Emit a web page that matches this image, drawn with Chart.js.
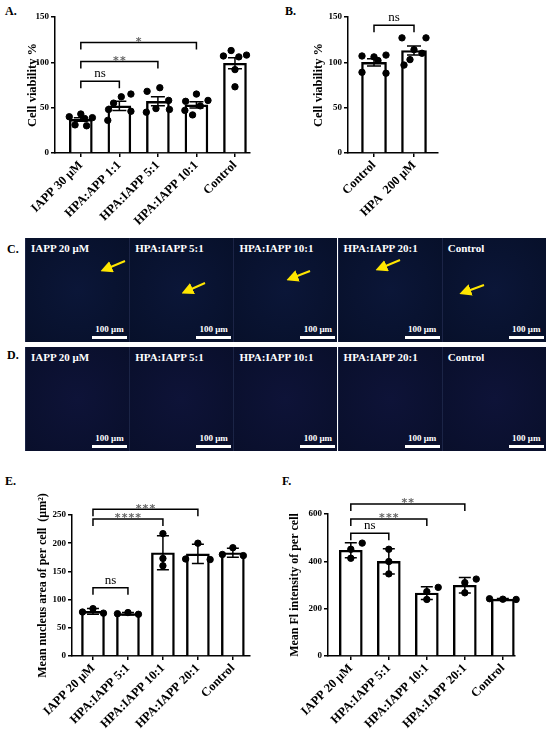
<!DOCTYPE html>
<html lang="en">
<head>
<meta charset="UTF-8">
<title>Cell viability and nucleus imaging</title>
<script src="https://cdn.jsdelivr.net/npm/chart.js"></script>
<style>
  body { margin: 0; background: #fff; width: 550px; height: 731px; position: relative; overflow: hidden;
         font-family: "Liberation Serif", serif; }
  .box { position: absolute; }
  .tag { position: absolute; font: bold 12px "Liberation Serif", serif; color: #000; }
  .pic { position: absolute; width: 104px; height: 104px; background: #08112c; overflow: hidden;
         border-left: 1px solid #1b2446; box-sizing: border-box; }
  .pic .name { position: absolute; left: 5px; top: 4px; color: #fff; font: bold 11px "Liberation Serif", serif; white-space: nowrap; }
  .pic .bar { position: absolute; right: 2px; bottom: 3px; width: 35px; height: 3px; background: #fff; }
  .pic .um { position: absolute; right: 2px; bottom: 8px; width: 35px; text-align: center; color: #fff;
             font: bold 9px "Liberation Serif", serif; }
  svg { position: absolute; left: 0; top: 0; }
</style>
</head>
<body>

<div class="tag" style="left:5px;top:4px">A.</div>
<div class="tag" style="left:285px;top:4px">B.</div>
<div class="tag" style="left:7px;top:242px">C.</div>
<div class="tag" style="left:7px;top:348px">D.</div>
<div class="tag" style="left:5px;top:474px">E.</div>
<div class="tag" style="left:282px;top:474px">F.</div>

<canvas id="chartA" class="box" style="left:0;top:0" width="265" height="228"></canvas>
<canvas id="chartB" class="box" style="left:275px;top:0" width="200" height="228"></canvas>
<canvas id="chartE" class="box" style="left:0;top:470px" width="265" height="261"></canvas>
<canvas id="chartF" class="box" style="left:275px;top:470px" width="275" height="261"></canvas>

<div id="rowC"></div>
<div id="rowD"></div>
<svg width="550" height="731" id="arrows"></svg>

<script>
// ---- data ----
const catsA = ['IAPP 30 μM', 'HPA:APP 1:1', 'HPA:IAPP 5:1', 'HPA:IAPP 10:1', 'Control'];
const meanA = [37, 52, 57, 53, 99];
const semA = [2, 5, 5, 3.5, 6];
const dotsA = [
  [43, 40, 39, 38, 31, 30],
  [65, 62, 55, 48, 46, 36],
  [72, 68, 58, 49, 48, 45],
  [65, 58, 57, 52, 47, 42],
  [113, 108, 107, 106, 92, 73]
];
const sigA = [[0, 1, 'ns'], [0, 2, '**'], [0, 3, '*']];

const catsB = ['Control', 'HPA  200 μM'];
const meanB = [100, 113];
const semB = [4, 5];
const dotsB = [
  [108, 107, 106, 102, 89, 88],
  [127, 127, 114, 110, 103, 97]
];
const sigB = [[0, 1, 'ns']];

const catsE = ['IAPP 20 μM', 'HPA:IAPP 5:1', 'HPA:IAPP 10:1', 'HPA:IAPP 20:1', 'Control'];
const meanE = [79, 75, 183, 181, 183];
const sdE = [5, 2, 30, 17, 8];
const dotsE = [
  [84, 78, 76],
  [77, 75, 74],
  [217, 173, 160],
  [200, 172, 171],
  [192, 180, 178]
];
const sigE = [[0, 1, 'ns'], [0, 2, '****'], [0, 3, '***']];

const catsF = ['IAPP 20 μM', 'HPA:IAPP 5:1', 'HPA:IAPP 10:1', 'HPA:IAPP 20:1', 'Control'];
const meanF = [447, 400, 266, 299, 240];
const sdF = [32, 53, 27, 33, 3];
const dotsF = [
  [477, 451, 413],
  [451, 399, 347],
  [290, 272, 239],
  [325, 310, 267],
  [242, 240, 239]
];
const sigF = [[0, 1, 'ns'], [0, 2, '***'], [0, 3, '**']];

const picNames = ['IAPP 20 μM', 'HPA:IAPP 5:1', 'HPA:IAPP 10:1', 'HPA:IAPP 20:1', 'Control'];

// ---- style / placement ----
const jitA = [
  [0, -0.3, 0.3, 0.1, -0.15, 0.15],
  [0.3, 0.05, -0.15, -0.28, 0.3, -0.3],
  [0.05, -0.28, 0.28, -0.05, 0.3, -0.3],
  [0, 0.3, -0.28, 0.1, -0.3, -0.1],
  [-0.1, 0.3, -0.3, 0.1, 0, 0]
];
const jitB = [
  [0.3, -0.3, 0, 0.1, -0.3, 0.3],
  [-0.3, 0.3, 0, 0.2, -0.1, -0.25]
];
const jitE = [[0, -0.3, 0.3], [0, -0.3, 0.3], [0, 0, 0], [0, -0.35, 0.35], [0, -0.3, 0.3]];
const jitF = [[0.3, 0, 0], [0, 0, 0], [0.3, 0, 0], [0.3, 0, 0], [-0.35, 0, 0.35]];

const serif = 'Liberation Serif';

function panel(id, o) {
  const pts = [];
  o.dots.forEach((vals, i) => vals.forEach((v, j) => pts.push({x: i + o.jit[i][j], y: v})));

  const deco = {
    id: 'deco' + id,
    afterDatasetsDraw(chart) {
      const {ctx, scales: {x, y}} = chart;
      ctx.save();
      ctx.strokeStyle = '#000';
      ctx.lineWidth = 1.5;
      // error bars
      o.mean.forEach((m, i) => {
        const px = x.getPixelForValue(i);
        const t = y.getPixelForValue(m + o.err[i]);
        const b = y.getPixelForValue(m - o.err[i]);
        ctx.beginPath();
        ctx.moveTo(px, t); ctx.lineTo(px, b);
        ctx.moveTo(px - o.cap, t); ctx.lineTo(px + o.cap, t);
        ctx.moveTo(px - o.cap, b); ctx.lineTo(px + o.cap, b);
        ctx.stroke();
      });
      // significance brackets
      o.sig.forEach(([a, b, label], k) => {
        const x1 = x.getPixelForValue(a), x2 = x.getPixelForValue(b);
        const py = y.getPixelForValue(o.sigY[k]);
        ctx.beginPath();
        ctx.moveTo(x1, py + 7); ctx.lineTo(x1, py); ctx.lineTo(x2, py); ctx.lineTo(x2, py + 7);
        ctx.stroke();
        ctx.textAlign = 'center';
        ctx.textBaseline = 'bottom';
        if (label === 'ns') {
          ctx.fillStyle = '#000';
          ctx.font = '13px ' + serif;
          ctx.fillText(label, (x1 + x2) / 2, py - 1);
        } else {
          ctx.fillStyle = '#666';
          ctx.font = 'bold 11px "DejaVu Sans"';
          ctx.fillText(label.split('').join('\u200A'), (x1 + x2) / 2, py + 5);
        }
      });
      ctx.restore();
    }
  };

  new Chart(document.getElementById(id), {
    type: 'bar',
    data: {
      datasets: [
        {type: 'scatter', data: pts, pointRadius: 3.2, pointHoverRadius: 3.2, backgroundColor: '#000', borderColor: '#000', clip: false, order: 0},
        {type: 'bar', data: o.mean.map((v, i) => ({x: i, y: v})), backgroundColor: '#fff', borderColor: '#000',
         borderWidth: 2.4, barThickness: o.barW, order: 1}
      ]
    },
    options: {
      responsive: false,
      animation: false,
      layout: {padding: {top: o.padT, right: o.padR, left: 0, bottom: 0}},
      plugins: {legend: {display: false}, tooltip: {enabled: false}},
      scales: {
        x: {
          type: 'linear', min: o.xmin, max: o.xmax, offset: false,
          afterBuildTicks: s => { s.ticks = o.cats.map((c, i) => ({value: i})); },
          afterFit: s => { s.height = o.xH; },
          ticks: {callback: v => o.cats[v], autoSkip: false, minRotation: 45, maxRotation: 45, padding: 1,
                  color: '#000', font: {family: serif, weight: 'bold', size: 12.5}},
          grid: {offset: false, drawOnChartArea: false, drawTicks: true, tickLength: 4, color: '#000', lineWidth: 1.5},
          border: {color: '#000', width: 1.5}
        },
        y: {
          min: 0, max: o.ymax,
          afterFit: s => { s.width = o.yW; },
          ticks: {stepSize: o.step, padding: 2, color: '#000', font: {family: serif, weight: 'bold', size: 9}},
          title: {display: true, text: o.title, color: '#000', padding: {top: o.titlePad, bottom: 0},
                  font: {family: serif, weight: 'bold', size: o.titleSize}},
          grid: {drawOnChartArea: false, drawTicks: true, tickLength: 4, color: '#000', lineWidth: 1.5},
          border: {color: '#000', width: 1.5}
        }
      }
    },
    plugins: [deco]
  });
}

panel('chartA', {cats: catsA, mean: meanA, err: semA, dots: dotsA, jit: jitA, sig: sigA, sigY: [79, 101, 122],
  xmin: -0.67, xmax: 4.39, ymax: 150, step: 50, padT: 17, padR: 15, yW: 55, xH: 75, barW: 23, cap: 7,
  title: 'Cell viability %', titleSize: 12.5, titlePad: 25});
panel('chartB', {cats: catsB, mean: meanB, err: semB, dots: dotsB, jit: jitB, sig: sigB, sigY: [141],
  xmin: -0.65, xmax: 1.6, ymax: 150, step: 50, padT: 17, padR: 37, yW: 73, xH: 75, barW: 25, cap: 7,
  title: 'Cell viability %', titleSize: 12.5, titlePad: 36});
panel('chartE', {cats: catsE, mean: meanE, err: sdE, dots: dotsE, jit: jitE, sig: sigE, sigY: [121, 243, 260],
  xmin: -0.6, xmax: 4.49, ymax: 250, step: 50, padT: 45, padR: 15, yW: 72, xH: 75, barW: 23, cap: 6,
  title: 'Mean nucleus area of per cell  (μm²)', titleSize: 12, titlePad: 36});
panel('chartF', {cats: catsF, mean: meanF, err: sdF, dots: dotsF, jit: jitF, sig: sigF, sigY: [519, 579, 642],
  xmin: -0.6, xmax: 4.32, ymax: 600, step: 200, padT: 44, padR: 35, yW: 53, xH: 75, barW: 23, cap: 6,
  title: 'Mean Fl intensity of per cell', titleSize: 12, titlePad: 13});

// ---- microscopy panel frames ----
function row(id, top, bg) {
  const el = document.getElementById(id);
  picNames.forEach((n, i) => {
    const d = document.createElement('div');
    d.className = 'pic';
    d.style.left = (25 + i * 104.2) + 'px';
    d.style.top = top + 'px';
    d.style.background = bg;
    d.innerHTML = '<div class="name">' + n + '</div><div class="um">100 μm</div><div class="bar"></div>';
    el.appendChild(d);
  });
}
row('rowC', 238, 'radial-gradient(ellipse at 50% 50%, #0b1638 0%, #07102a 100%)');
row('rowD', 347, 'radial-gradient(ellipse at 50% 50%, #0e1338 0%, #090f2b 100%)');

// yellow arrows in row C: [tailX, tailY, tipX, tipY]
const arrows = [[125, 261, 106, 269], [205, 283, 187, 291], [310, 271, 292, 278], [400, 260, 381, 268], [484, 285, 465, 292]];
const svg = document.getElementById('arrows');
let s = '<defs><marker id="ah" markerWidth="6" markerHeight="6" refX="3" refY="3" orient="auto">' +
        '<path d="M0,0 L6,3 L0,6 z" fill="#ffe600"/></marker></defs>';
arrows.forEach(a => {
  s += '<line x1="' + a[0] + '" y1="' + a[1] + '" x2="' + a[2] + '" y2="' + a[3] +
       '" stroke="#ffe600" stroke-width="2" marker-end="url(#ah)"/>';
});
svg.innerHTML = s;
</script>
</body>
</html>
